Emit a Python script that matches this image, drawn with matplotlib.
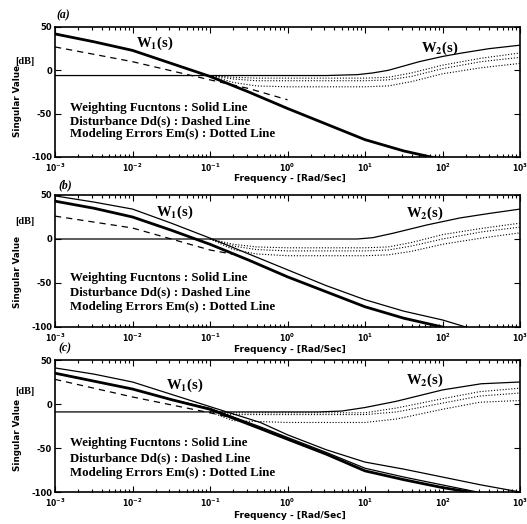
import matplotlib.pyplot as plt
import numpy as np
from matplotlib.ticker import LogLocator, NullFormatter, FixedLocator

plt.rcParams['mathtext.default'] = 'bf'
plt.rcParams['font.weight'] = 'bold'
plt.rcParams['axes.unicode_minus'] = False

db_ticks = [50, 0, -50, -100]
freq_ticks = [1e-3, 1e-2, 1e-1, 1e0, 1e1, 1e2, 1e3]
freq_labels = [r'$10^{-3}$', r'$10^{-2}$', r'$10^{-1}$', r'$10^{0}$',
               r'$10^{1}$', r'$10^{2}$', r'$10^{3}$']
legend_lines = ['Weighting Fucntons : Solid Line',
                'Disturbance Dd(s) : Dashed Line',
                'Modeling Errors Em(s) : Dotted Line']
panel_names = ['(a)', '(b)', '(c)']

# ---- panel (a) ----
a_w1_exp = [-3, -2.5, -2, -1.5, -1, -0.5, 0, 0.5, 1, 1.5, 2]
a_w1_db = [42, 33, 23, 8, -7, -25, -44, -62, -80, -93, -103]
a_dd_exp = [-3, -2, -1, -0.5, 0]
a_dd_db = [27, 10, -11, -21, -34]
a_w2_exp = [-3, 0.5, 0.9, 1.1, 1.3, 1.5, 1.7, 2.0, 2.25, 2.6, 3]
a_w2_db = [-6, -6, -5, -3, 0, 5, 10, 16, 20, 25, 29]
a_em_exp = [-1, -0.7, -0.4, 0, 0.5, 1, 1.3, 1.6, 2, 2.5, 3]
a_em1 = [-6, -8, -9, -9, -9, -9, -8, -3, 6, 14, 20]
a_em2 = [-6, -10, -12, -12, -12, -12, -11, -7, 2, 10, 15]
a_em3 = [-6, -14, -18, -19, -19, -19, -18, -13, -4, 3, 8]

# ---- panel (b) ----
b_w1a_exp = [-3, -2.5, -2, -1.5, -1, -0.5, 0, 0.5, 1, 1.5, 2, 2.3]
b_w1a_db = [49, 42, 34, 18, 1, -17, -35, -53, -69, -82, -92, -100]
b_w1b_exp = [-3, -2.5, -2, -1.5, -1, -0.5, 0, 0.5, 1, 1.5, 2]
b_w1b_db = [43, 35, 25, 10, -6, -24, -43, -60, -77, -90, -100]
b_dd_exp = [-3, -2, -1, -0.6]
b_dd_db = [26, 12.5, -12.5, -19]
b_w2_exp = [-3, 0.5, 0.9, 1.1, 1.36, 1.8, 2.23, 2.6, 3]
b_w2_db = [0, 0, 0, 1.5, 6.5, 16, 24, 29, 34]
b_em_exp = [-1, -0.7, -0.4, 0, 0.5, 1, 1.3, 1.6, 2, 2.5, 3]
b_em1 = [0, -6, -9, -10, -10, -10, -9, -4, 5, 12, 18]
b_em2 = [0, -8, -12, -13.5, -13.5, -13.5, -12.5, -8, 0, 8, 13.5]
b_em3 = [0, -12, -17, -19, -19, -19, -18, -14, -6, 1, 7]

# ---- panel (c) ----
c_w1a_exp = [-3, -2.5, -2, -1.5, -1, -0.35, 0, 0.5, 1, 1.5, 2, 2.5, 3]
c_w1a_db = [41, 34, 25, 11, -3, -21, -35, -52, -66, -74, -83, -92, -100]
c_w1b_exp = [-3, -2.5, -2, -1.5, -1, -0.35, 0, 0.5, 1, 1.5, 2, 2.35]
c_w1b_db = [35, 26, 17, 5, -6, -28, -40, -57, -76, -86, -95, -100]
c_w1c_exp = [-3, -2.5, -2, -1.5, -1, -0.35, 0, 0.5, 1, 1.5, 2, 2.45]
c_w1c_db = [35, 26, 17, 5, -5, -26, -38, -55, -73, -83, -92, -100]
c_dd_exp = [-3, -2, -1, -0.6]
c_dd_db = [28, 8, -10, -18]
c_w2_exp = [-3, 0.4, 0.7, 1.0, 1.4, 2.0, 2.5, 3]
c_w2_db = [-9, -9, -8, -4, 3, 16, 23, 25]
c_em_exp = [-1, -0.7, 0, 1, 1.41, 2, 2.48, 3]
c_em1 = [-9, -10, -10, -10, -4.5, 6, 14, 18]
c_em2 = [-9, -12, -12, -12, -9, 1, 9, 12.5]
c_em3 = [-9, -19, -21, -21, -17, -6, 2, 4]

W, H = 527, 524
fig = plt.figure(figsize=(W / 100, H / 100), dpi=100)

def fx(px):
    return px / W

def fy(py):
    return 1 - py / H

# pixel boxes (left, top, right, bottom)
boxes = [(55, 27, 520, 157), (55, 195, 520, 327), (55, 360, 520, 492)]

panels = [
    dict(thick=[(a_w1_exp, a_w1_db)], thin=[],
         dd=(a_dd_exp, a_dd_db), w2=(a_w2_exp, a_w2_db),
         em=(a_em_exp, [a_em1, a_em2, a_em3]),
         w1_pos=(155, 43), w2_pos=(440, 48), txt_y=[0.377, 0.277, 0.177],
         name_pos=(63, 15), db_pos=(25, 62), sv_y=101, xl_y=178),
    dict(thick=[(b_w1b_exp, b_w1b_db)], thin=[(b_w1a_exp, b_w1a_db)],
         dd=(b_dd_exp, b_dd_db), w2=(b_w2_exp, b_w2_db),
         em=(b_em_exp, [b_em1, b_em2, b_em3]),
         w1_pos=(175, 212), w2_pos=(425, 213), txt_y=[0.371, 0.265, 0.152],
         name_pos=(65, 185), db_pos=(25, 221), sv_y=272, xl_y=349),
    dict(thick=[(c_w1b_exp, c_w1b_db)], thin=[(c_w1a_exp, c_w1a_db), (c_w1c_exp, c_w1c_db)],
         dd=(c_dd_exp, c_dd_db), w2=(c_w2_exp, c_w2_db),
         em=(c_em_exp, [c_em1, c_em2, c_em3]),
         w1_pos=(185, 385), w2_pos=(425, 380), txt_y=[0.371, 0.258, 0.144],
         name_pos=(65, 348), db_pos=(25, 391), sv_y=435, xl_y=516),
]

for (l, t, r, b), p, name in zip(boxes, panels, panel_names):
    ax = fig.add_axes([fx(l), fy(b), fx(r) - fx(l), fy(t) - fy(b)])
    ax.set_xscale('log')
    for ex, db in p['thick']:
        ax.plot(10.0 ** np.array(ex), db, color='black', lw=2.0)
    for ex, db in p['thin']:
        ax.plot(10.0 ** np.array(ex), db, color='black', lw=0.9)
    ax.plot(10.0 ** np.array(p['w2'][0]), p['w2'][1], color='black', lw=0.9)
    ax.plot(10.0 ** np.array(p['dd'][0]), p['dd'][1], color='black', lw=0.9,
            dashes=(5, 4))
    for em in p['em'][1]:
        ax.plot(10.0 ** np.array(p['em'][0]), em, color='black', lw=0.8,
                dashes=(1, 1.6))
    ax.set_xlim(1e-3, 1e3)
    ax.set_ylim(-100, 50)
    ax.set_yticks(db_ticks)
    ax.set_xticks(freq_ticks)
    ax.set_xticklabels(freq_labels)
    ax.xaxis.set_minor_locator(LogLocator(base=10, subs=np.arange(2, 10)))
    ax.xaxis.set_minor_formatter(NullFormatter())
    ax.tick_params(which='both', direction='in', top=True, right=True,
                   width=0.8)
    ax.tick_params(axis='y', labelsize=6, pad=2)
    ax.tick_params(axis='x', labelsize=5.5, pad=3)
    ax.tick_params(which='major', length=4)
    ax.tick_params(which='minor', length=2)
    for lab in ax.get_yticklabels() + ax.get_xticklabels():
        lab.set_fontweight('bold')
    for s in ax.spines.values():
        s.set_linewidth(1.2)
    for txt, ty in zip(legend_lines, p['txt_y']):
        ax.text(0.032, ty, txt, transform=ax.transAxes, fontsize=9.3,
                family='Liberation Serif', fontweight='bold', va='center')
    fig.text(fx(p['w1_pos'][0]), fy(p['w1_pos'][1]), r'W$_1$(s)', fontsize=10.5,
             family='Liberation Serif', fontweight='bold', ha='center',
             va='center', math_fontfamily='stix')
    fig.text(fx(p['w2_pos'][0]), fy(p['w2_pos'][1]), r'W$_2$(s)', fontsize=10.5,
             family='Liberation Serif', fontweight='bold', ha='center',
             va='center', math_fontfamily='stix')
    fig.text(fx(p['name_pos'][0]), fy(p['name_pos'][1]), name, fontsize=8.5,
             family='Liberation Serif', fontweight='bold', style='italic',
             ha='center', va='center')
    fig.text(fx(p['db_pos'][0]), fy(p['db_pos'][1]), '[dB]', fontsize=7.5,
             family='Liberation Serif', fontweight='bold', ha='center',
             va='center')
    fig.text(fx(17), fy(p['sv_y']), 'Singular Value', fontsize=6.3,
             fontweight='bold', rotation=90, ha='center', va='center')
    fig.text(fx(290), fy(p['xl_y']), 'Frequency - [Rad/Sec]', fontsize=6.5,
             fontweight='bold', ha='center', va='center')

fig.savefig('out.png', dpi=100)
